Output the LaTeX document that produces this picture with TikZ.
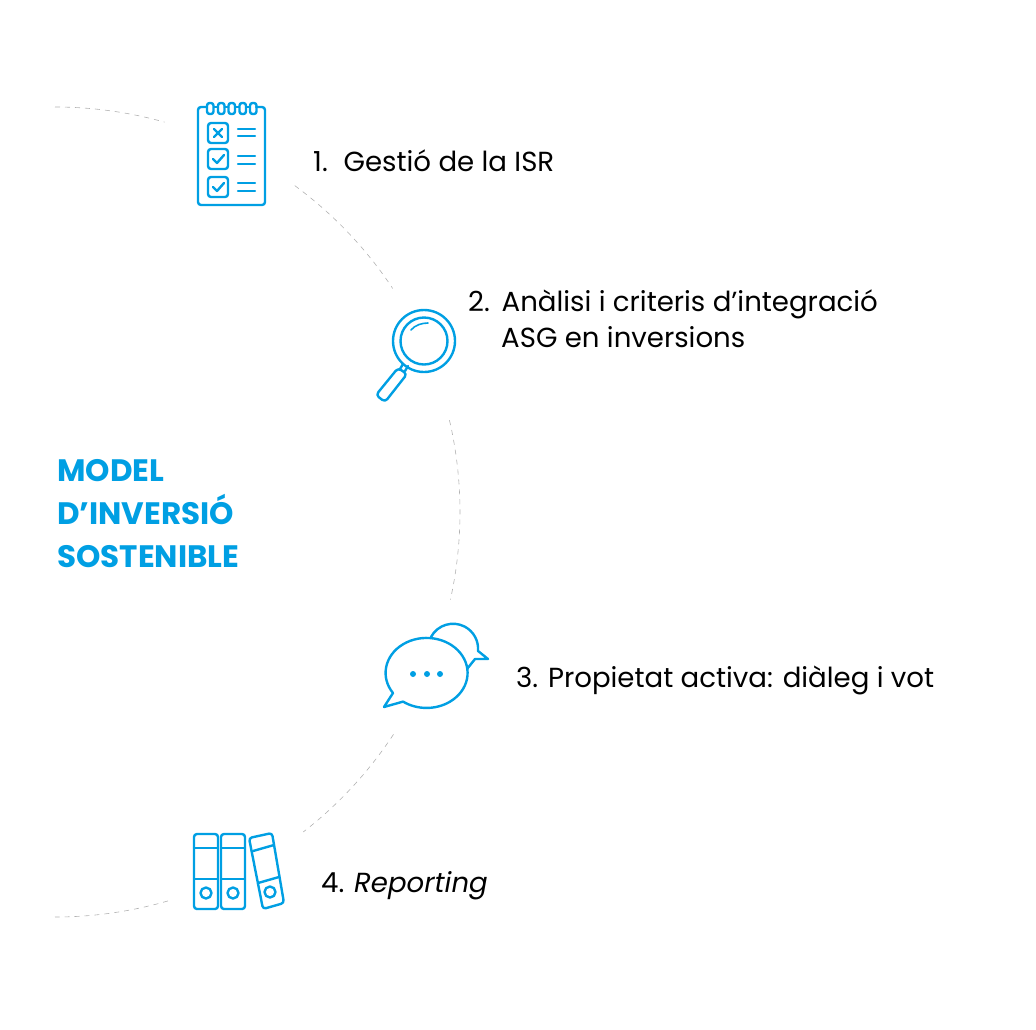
\documentclass[tikz,border=0pt]{standalone}
\usepackage{fontspec}
\setmainfont{Poppins}
\usetikzlibrary{positioning}
\definecolor{blauicona}{HTML}{009FE3}
\tikzstyle{icon} = [draw=blauicona, line width=2.4pt, line join=round, line cap=round]
\tikzstyle{ring} = [draw=black!30, line width=0.6pt, dash pattern=on 5pt off 5pt]
\tikzstyle{itemtext} = [anchor=base west, inner sep=0pt, align=left, text=black, font=\fontsize{27.6}{36}\selectfont]
\tikzstyle{titletext} = [anchor=base west, inner sep=0pt, align=left, text=blauicona, font=\fontsize{31}{43}\selectfont\bfseries]

\begin{document}
\begin{tikzpicture}[x=1pt,y=-1pt]
        \useasboundingbox (0,0) rectangle (1036,1029);

        % dashed circle, cut at the icons
        \coordinate (ctr) at (55,512);
        \foreach \a/\b in {-90/-74.3, -53.7/-33.5, -13.1/12.5, 33.3/52.2, 73.8/90}
          \draw[ring] (ctr) ++(\a:405) arc[start angle=\a, end angle=\b, radius=405];

        \node[titletext] (title) at (57,567) {MODEL\\D’INVERSIÓ\\SOSTENIBLE};

        \node[itemtext] (item1) at (313,171) {1.\hspace{6pt} Gestió de la ISR};
        \node[itemtext] (item2) at (468,347) {2.\hspace{2pt} Anàlisi i criteris d’integració\\\hspace*{33pt}ASG en inversions};
        \node[itemtext] (item3) at (516,687) {3. Propietat activa: diàleg i vot};
        \node[itemtext] (item4) at (321,892) {4. \textit{Reporting}};

        % notepad
        \draw[icon, rounded corners=3] (207,107) -- (198,107) -- (198,205) -- (265,205) -- (265,107) -- (256,107);
        \foreach \x in {207,218,228.5,239.5,250}
          \draw[icon, rounded corners=2.5] (\x,103) rectangle ++(6.5,11);
        \foreach \x in {214,224.5,235,246}
          \draw[icon] (\x,107) -- ++(4,0);
        \foreach \y/\p/\q in {123/129/136, 149/156/164, 177/183/191} {
          \draw[icon, rounded corners=3] (208,\y) rectangle ++(20,20);
          \draw[icon] (238,\p) -- (255,\p);
          \draw[icon] (238,\q) -- (255,\q);
        }
        \draw[icon] (214,129) -- (222,137);
        \draw[icon] (222,129) -- (214,137);
        \foreach \y in {149,177}
          \draw[icon] (213,\y+10) -- ++(4,4) -- ++(7,-8);

        % magnifier
        \draw[icon] (424,341) circle[radius=31];
        \draw[icon] (424,341) circle[radius=23.5];
        \draw[icon, line width=1.6pt] (411,330) .. controls (415,325) and (422,323) .. (428,323);
        \draw[icon] (403,364) -- (400,369);
        \draw[icon] (408,366) -- (405,371);
        \draw[icon, rounded corners=3.5] (398,368) -- (407,374) -- (385,402) -- (376,395) -- cycle;

        % speech bubbles
        \draw[icon] (431,637) arc[start angle=208, end angle=365, radius=25] -- (488,659) -- (475,659) -- (467,669);
        \draw[icon] (393,693) arc[start angle=145, end angle=485, x radius=41, y radius=35] -- (384,707) -- cycle;
        \foreach \x in {413,427,440}
          \fill[blauicona] (\x,674) circle[radius=3];

        % binders
        \foreach \x in {194,221} {
          \draw[icon, rounded corners=3] (\x,834) rectangle ++(24,75);
          \draw[icon] (\x,848) -- ++(24,0);
          \draw[icon] (\x,879) -- ++(24,0);
          \draw[icon] (\x+12,893) circle[radius=5.5];
        }
        \draw[icon, rounded corners=3] (249,838) -- (272,833) -- (284,903) -- (263,909) -- cycle;
        \draw[icon] (253,851) -- (274,845);
        \draw[icon] (258,883) -- (279,877);
        \draw[icon] (270,892) circle[radius=5.5];
\end{tikzpicture}
\end{document}
